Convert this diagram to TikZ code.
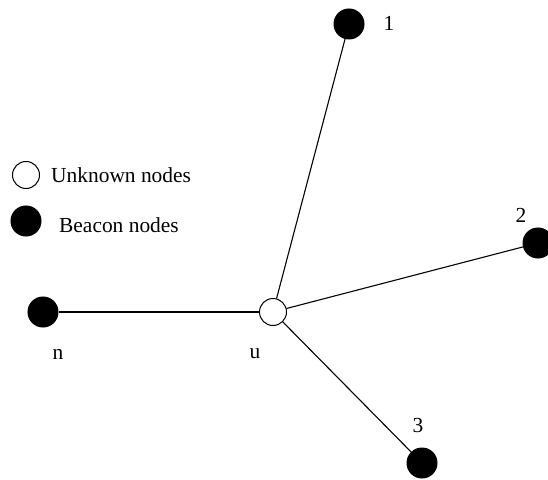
\documentclass[tikz,border=0pt]{standalone}
\usepackage{fontspec}
\setmainfont{Liberation Serif}
\begin{document}
\begin{tikzpicture}[x=1bp,y=-1bp,
  beacon/.style={circle,fill=black,draw=black,line width=1bp,minimum size=30bp,inner sep=0pt},
  unknown/.style={circle,fill=white,draw=black,line width=1bp,minimum size=27bp,inner sep=0pt},
  lbl/.style={font=\fontsize{21.5}{25}\selectfont,inner sep=0pt},
  link/.style={line width=1.1bp}]
\useasboundingbox (0,0) rectangle (548,480);
% network
\node[unknown] (u) at (273,312) {};
\node[beacon] (b1) at (349,24) {};
\node[beacon] (b2) at (538,243) {};
\node[beacon] (b3) at (422,463) {};
\node[beacon] (bn) at (43,312) {};
\draw[link] (u) -- (b1);
\draw[link] (u) -- (b2);
\draw[link] (u) -- (b3);
\draw[link] (u) -- (bn);
% labels
\node[lbl] (l1) at (389,23) {1};
\node[lbl] (l2) at (521,215) {2};
\node[lbl] (l3) at (418,426) {3};
\node[lbl] (ln) at (58,354) {n};
\node[lbl] (lu) at (255,354) {u};
% legend
\node[unknown] (ku) at (26,175) {};
\node[beacon] (kb) at (26,221) {};
\node[lbl,anchor=west] (tu) at (51,175) {Unknown nodes};
\node[lbl,anchor=west] (tb) at (59,225) {Beacon nodes};
\end{tikzpicture}
\end{document}
